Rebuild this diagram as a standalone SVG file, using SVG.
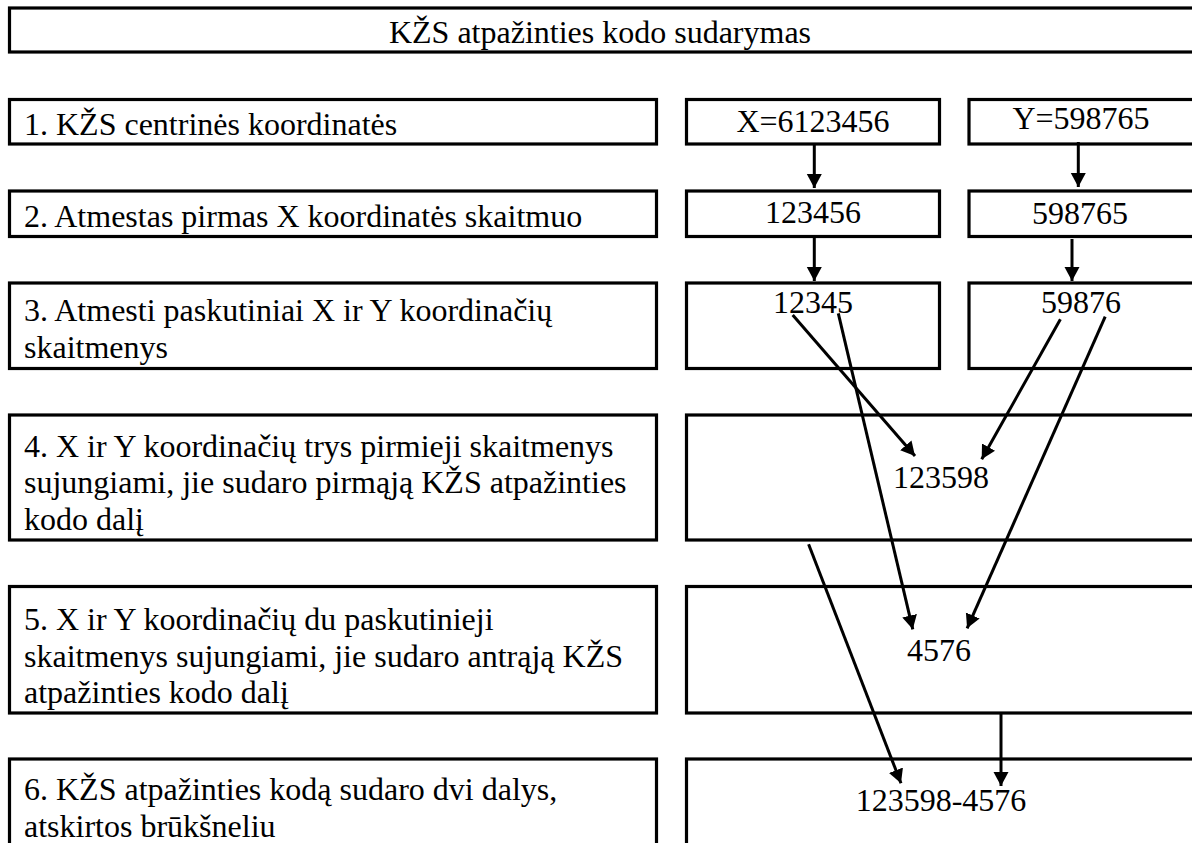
<svg xmlns="http://www.w3.org/2000/svg" width="1192" height="843" viewBox="0 0 1192 843">
<style>
.box{fill:#fff;stroke:#000;stroke-width:3.2}
.t{font-size:32px;fill:#000}
.c{text-anchor:middle}
.ln{stroke:#000;stroke-width:3;fill:none;marker-end:url(#ah)}
</style>
<defs>
<marker id="ah" markerUnits="userSpaceOnUse" markerWidth="15" markerHeight="16" refX="14" refY="8" orient="auto">
<path d="M0,0.5 L14,8 L0,15.5 z" fill="#000"/>
</marker>
</defs>
<rect width="1192" height="843" fill="#fff"/>
<g font-family="Liberation Serif, DejaVu Serif, serif">
<g id="title">
<rect class="box" x="9.5" y="8" width="1186" height="44"/>
<text class="t c" x="600" y="43">KŽS atpažinties kodo sudarymas</text>
</g>
<g id="step1">
<rect class="box" x="9.5" y="99.5" width="647" height="44.5"/>
<text class="t" x="24" y="135">1. KŽS centrinės koordinatės</text>
</g>
<g id="x1">
<rect class="box" x="686.5" y="99.5" width="253" height="44.5"/>
<text class="t c" x="813" y="132">X=6123456</text>
</g>
<g id="y1">
<rect class="box" x="969" y="99.5" width="230" height="44.5"/>
<text class="t c" x="1081" y="129">Y=598765</text>
</g>
<g id="step2">
<rect class="box" x="9.5" y="191" width="647" height="45.5"/>
<text class="t" x="24" y="227">2. Atmestas pirmas X koordinatės skaitmuo</text>
</g>
<g id="x2">
<rect class="box" x="686.5" y="191" width="253" height="45.5"/>
<text class="t c" x="813" y="223">123456</text>
</g>
<g id="y2">
<rect class="box" x="969" y="191" width="230" height="45.5"/>
<text class="t c" x="1080" y="224">598765</text>
</g>
<g id="step3">
<rect class="box" x="9.5" y="283" width="647" height="85.5"/>
<text class="t" x="24" y="320.5">3. Atmesti paskutiniai X ir Y koordinačių</text>
<text class="t" x="24" y="357.5">skaitmenys</text>
</g>
<g id="x3">
<rect class="box" x="686.5" y="283" width="253" height="85.5"/>
<text class="t c" x="813" y="313">12345</text>
</g>
<g id="y3">
<rect class="box" x="969" y="283" width="230" height="85.5"/>
<text class="t c" x="1081" y="313">59876</text>
</g>
<g id="step4">
<rect class="box" x="9.5" y="415" width="647" height="125"/>
<text class="t" x="24" y="456.5">4. X ir Y koordinačių trys pirmieji skaitmenys</text>
<text class="t" x="24" y="493.3">sujungiami, jie sudaro pirmąją KŽS atpažinties</text>
<text class="t" x="24" y="530">kodo dalį</text>
</g>
<g id="r4">
<rect class="box" x="686.5" y="415" width="512" height="125"/>
<text class="t c" x="941" y="487.5">123598</text>
</g>
<g id="step5">
<rect class="box" x="9.5" y="586.5" width="647" height="126.5"/>
<text class="t" x="24" y="630">5. X ir Y koordinačių du paskutinieji</text>
<text class="t" x="24" y="666.7">skaitmenys sujungiami, jie sudaro antrąją KŽS</text>
<text class="t" x="24" y="703.3">atpažinties kodo dalį</text>
</g>
<g id="r5">
<rect class="box" x="686.5" y="586.5" width="512" height="126.5"/>
<text class="t c" x="939" y="660.7">4576</text>
</g>
<g id="step6">
<rect class="box" x="9.5" y="759" width="647" height="120"/>
<text class="t" x="24" y="800">6. KŽS atpažinties kodą sudaro dvi dalys,</text>
<text class="t" x="24" y="836.7">atskirtos brūkšneliu</text>
</g>
<g id="r6">
<rect class="box" x="686.5" y="759" width="512" height="120"/>
<text class="t c" x="941" y="810.7">123598-4576</text>
</g>
</g>
<g id="connectors">
<line class="ln" x1="814.3" y1="145" x2="814.3" y2="188"/>
<line class="ln" x1="1078.3" y1="142" x2="1078.3" y2="187"/>
<line class="ln" x1="814.3" y1="238" x2="814.3" y2="281"/>
<line class="ln" x1="1072" y1="239" x2="1072" y2="281"/>
<line class="ln" x1="792.7" y1="315" x2="915" y2="456"/>
<line class="ln" x1="838.3" y1="313.3" x2="912.8" y2="629.3"/>
<line class="ln" x1="1060.4" y1="319.3" x2="981.7" y2="459.3"/>
<line class="ln" x1="1105.2" y1="316.7" x2="967.1" y2="628.3"/>
<line class="ln" x1="808.6" y1="544.3" x2="901" y2="783.3"/>
<line class="ln" x1="1001" y1="714" x2="1001" y2="786"/>
</g>
</svg>
